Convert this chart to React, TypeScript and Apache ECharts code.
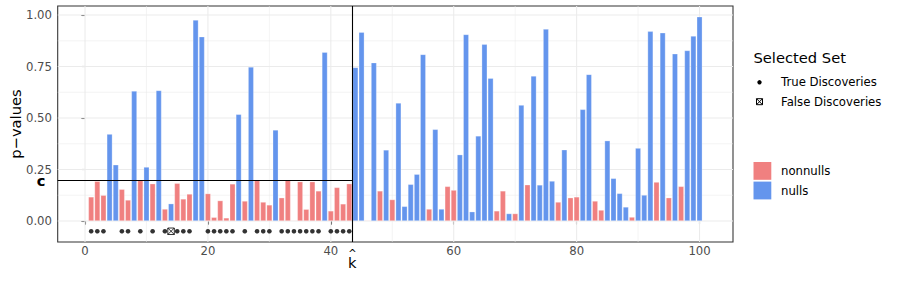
import React, { useEffect, useRef } from "react";
import * as echarts from "echarts";

// p-value of each hypothesis, index 1..100
const pValues = [
  0.117, 0.193, 0.125, 0.422, 0.273, 0.154, 0.102, 0.631, 0.197, 0.262,
  0.181, 0.634, 0.058, 0.084, 0.183, 0.107, 0.131, 0.976, 0.895, 0.133,
  0.018, 0.099, 0.015, 0.18, 0.518, 0.097, 0.748, 0.197, 0.092, 0.078,
  0.442, 0.113, 0.198, 0.003, 0.191, 0.057, 0.191, 0.146, 0.82, 0.049,
  0.163, 0.083, 0.181, 0.746, 0.917, 0.003, 0.769, 0.146, 0.345, 0.104,
  0.573, 0.071, 0.178, 0.227, 0.809, 0.058, 0.445, 0.058, 0.168, 0.15,
  0.322, 0.906, 0.045, 0.413, 0.858, 0.693, 0.049, 0.146, 0.036, 0.036,
  0.563, 0.176, 0.704, 0.175, 0.932, 0.194, 0.092, 0.346, 0.113, 0.117,
  0.542, 0.712, 0.097, 0.053, 0.39, 0.207, 0.134, 0.068, 0.019, 0.354,
  0.126, 0.921, 0.189, 0.914, 0.113, 0.812, 0.168, 0.828, 0.898, 0.992,
];

// indices (1-based) of null hypotheses; all others are nonnulls
const nullIndices = [
  4, 5, 8, 10, 12, 14, 18, 19, 25, 27, 31, 39, 44, 45, 47, 49, 51, 52, 53, 54,
  55, 57, 58, 61, 62, 63, 64, 65, 66, 69, 71, 73, 74, 75, 76, 78, 81, 82, 85,
  86, 87, 88, 90, 91, 92, 94, 96, 98, 99, 100,
];

const trueDiscoveries = [
  1, 2, 3, 6, 7, 9, 11, 13, 15, 16, 17, 20, 21, 22, 23, 24, 26, 28, 29, 30, 32,
  33, 34, 35, 36, 37, 38, 40, 41, 42, 43,
];
const falseDiscoveries = [14];

const cutoffC = 0.2;
const kHat = 43.5;
const pointLevel = -0.05;

const xBreaks = [0, 20, 40, 60, 80, 100];
const xMinorBreaks = [10, 30, 50, 70, 90];
const yBreaks = [0, 0.25, 0.5, 0.75, 1];
const yMinorBreaks = [0.125, 0.375, 0.625, 0.875];
const xLimits = [-4.445, 105.445];
const yLimits = [-0.1021, 1.0441];

const RED = "#F08080";
const BLUE = "#6495ED";
const FONT = '"DejaVu Sans", Verdana, sans-serif';

export default function App() {
  const ref = useRef<HTMLDivElement>(null);

  useEffect(() => {
    document.body.style.margin = "0";
    const el = ref.current!;
    const chart = echarts.init(el, null, { renderer: "svg" });

    const grid = { left: 57.7, right: 167, top: 6, bottom: 44 };
    const plotW = 900 - grid.left - grid.right;
    const barW = (0.9 * plotW) / (xLimits[1] - xLimits[0]);

    const nullSet = new Set(nullIndices);
    const nonnullData: number[][] = [];
    const nullData: number[][] = [];
    pValues.forEach((p, k) => {
      const i = k + 1;
      if (nullSet.has(i)) nullData.push([i, p]);
      else nonnullData.push([i, p]);
    });

    const gridData = [
      ...xMinorBreaks.map((v) => [v, 0, 0]),
      ...xBreaks.map((v) => [v, 0, 1]),
      ...yMinorBreaks.map((v) => [v, 1, 0]),
      ...yBreaks.map((v) => [v, 1, 1]),
    ];

    const option: any = {
      animation: false,
      backgroundColor: "#ffffff",
      grid: {
        ...grid,
        show: true,
        borderColor: "#333333",
        borderWidth: 1.07,
        backgroundColor: "#ffffff",
        z: 0,
      },
      xAxis: {
        type: "value",
        min: xLimits[0],
        max: xLimits[1],
        axisLine: { show: false },
        splitLine: { show: false },
        axisTick: {
          show: true,
          customValues: xBreaks,
          length: 3.7,
          lineStyle: { color: "#333333", width: 1.07 },
        },
        axisLabel: {
          customValues: xBreaks,
          color: "#4D4D4D",
          fontSize: 11.7,
          fontFamily: FONT,
          margin: 3,
          formatter: (v: number) => String(v),
        },
      },
      yAxis: {
        type: "value",
        min: yLimits[0],
        max: yLimits[1],
        axisLine: { show: false },
        splitLine: { show: false },
        axisTick: {
          show: true,
          customValues: yBreaks,
          length: 3.7,
          lineStyle: { color: "#333333", width: 1.07 },
        },
        axisLabel: {
          customValues: yBreaks,
          color: "#4D4D4D",
          fontSize: 11.7,
          fontFamily: FONT,
          margin: 5.7,
          lineHeight: 12,
          formatter: (v: number) => v.toFixed(2),
        },
      },
      series: [
        {
          type: "custom",
          name: "grid",
          silent: true,
          z: 1,
          data: gridData,
          encode: { x: 0 },
          renderItem: (params: any, api: any) => {
            const v = api.value(0);
            const dir = api.value(1);
            const major = api.value(2);
            let p1, p2;
            if (dir === 0) {
              p1 = api.coord([v, yLimits[0]]);
              p2 = api.coord([v, yLimits[1]]);
            } else {
              p1 = api.coord([xLimits[0], v]);
              p2 = api.coord([xLimits[1], v]);
            }
            return {
              type: "line",
              shape: { x1: p1[0], y1: p1[1], x2: p2[0], y2: p2[1] },
              style: { stroke: "#EBEBEB", lineWidth: major ? 1.07 : 0.53 },
            };
          },
        },
        {
          type: "bar",
          name: "nonnulls",
          data: nonnullData,
          barWidth: barW,
          barGap: "-100%",
          z: 2,
          itemStyle: {
            color: RED,
            borderColor: "rgba(255,255,255,0.55)",
            borderWidth: 0.5,
          },
        },
        {
          type: "bar",
          name: "nulls",
          data: nullData,
          barWidth: barW,
          barGap: "-100%",
          z: 2,
          itemStyle: {
            color: BLUE,
            borderColor: "rgba(255,255,255,0.55)",
            borderWidth: 0.5,
          },
        },
        {
          type: "scatter",
          name: "True Discoveries",
          data: trueDiscoveries.map((i) => [i, pointLevel]),
          symbol: "circle",
          symbolSize: 4.6,
          itemStyle: { color: "#000000" },
          z: 3,
          markLine: {
            silent: true,
            symbol: ["none", "none"],
            label: { show: false },
            lineStyle: { color: "#000000", width: 1.1, type: "solid" },
            data: [
              [{ coord: [xLimits[0], cutoffC] }, { coord: [kHat, cutoffC] }],
              [{ coord: [kHat, yLimits[0]] }, { coord: [kHat, yLimits[1]] }],
            ],
          },
        },
        {
          type: "scatter",
          name: "False Discoveries",
          data: falseDiscoveries.map((i) => [i, pointLevel]),
          symbol: "path://M0 0H10V10H0Z M0 0L10 10 M10 0L0 10",
          symbolSize: 6.5,
          itemStyle: {
            color: "rgba(0,0,0,0)",
            borderColor: "#000000",
            borderWidth: 1,
          },
          z: 3,
        },
      ],
    };

    chart.setOption(option);

    const kPx = chart.convertToPixel({ xAxisIndex: 0 }, kHat) as number;
    const cPx = chart.convertToPixel({ yAxisIndex: 0 }, cutoffC) as number;
    const leftPx = chart.convertToPixel({ xAxisIndex: 0 }, xLimits[0]) as number;
    const bottomPx = chart.convertToPixel({ yAxisIndex: 0 }, yLimits[0]) as number;
    const topPx = chart.convertToPixel({ yAxisIndex: 0 }, yLimits[1]) as number;

    const txt = (
      text: string,
      x: number,
      y: number,
      size: number,
      extra: any = {}
    ) => ({
      type: "text",
      x,
      y,
      silent: true,
      style: {
        text,
        fill: "#000000",
        fontSize: size,
        fontFamily: FONT,
        textAlign: "left",
        textVerticalAlign: "middle",
        ...extra,
      },
    });

    const lx = 753.5;
    const tx = 781;
    const graphic: any[] = [
      // y axis title
      {
        type: "text",
        x: 15,
        y: (topPx + bottomPx) / 2,
        rotation: Math.PI / 2,
        silent: true,
        style: {
          text: "p\u2212values",
          fill: "#000000",
          fontSize: 14.7,
          fontFamily: FONT,
          textAlign: "center",
          textVerticalAlign: "middle",
        },
      },
      // c label
      txt("c", leftPx - 16.5, cPx + 1, 14.7, {
        fontWeight: "bold",
        textAlign: "center",
        lineHeight: 9,
      }),
      // k-hat label (hat over k)
      {
        type: "text",
        x: kPx,
        y: bottomPx + 8,
        silent: true,
        style: {
          text: "{h|^}\n{k|k}",
          fill: "#000000",
          fontFamily: FONT,
          textAlign: "center",
          textVerticalAlign: "top",
          rich: {
            h: { fontSize: 10, lineHeight: 6, fontFamily: FONT, fill: "#000000" },
            k: { fontSize: 14.7, lineHeight: 12, fontFamily: FONT, fill: "#000000" },
          },
        },
      },
      // legend: Selected Set
      txt("Selected Set", lx, 57, 14.7),
      {
        type: "circle",
        silent: true,
        shape: { cx: 759.5, cy: 82.3, r: 2.2 },
        style: { fill: "#000000" },
      },
      {
        type: "rect",
        silent: true,
        shape: { x: 756.5, y: 98.7, width: 6, height: 6 },
        style: { fill: "none", stroke: "#000000", lineWidth: 1 },
      },
      {
        type: "line",
        silent: true,
        shape: { x1: 756.5, y1: 98.7, x2: 762.5, y2: 104.7 },
        style: { stroke: "#000000", lineWidth: 1 },
      },
      {
        type: "line",
        silent: true,
        shape: { x1: 762.5, y1: 98.7, x2: 756.5, y2: 104.7 },
        style: { stroke: "#000000", lineWidth: 1 },
      },
      txt("True Discoveries", tx, 82.3, 11.7),
      txt("False Discoveries", tx, 101.7, 11.7),
      // legend: fill
      {
        type: "rect",
        silent: true,
        shape: { x: lx, y: 162, width: 17.8, height: 17.8 },
        style: { fill: RED },
      },
      {
        type: "rect",
        silent: true,
        shape: { x: lx, y: 181.6, width: 17.8, height: 17.8 },
        style: { fill: BLUE },
      },
      txt("nonnulls", tx, 171, 11.7),
      txt("nulls", tx, 190.5, 11.7),
    ];

    chart.setOption({ graphic });

    return () => chart.dispose();
  }, []);

  return <div ref={ref} style={{ width: 900, height: 286 }} />;
}
